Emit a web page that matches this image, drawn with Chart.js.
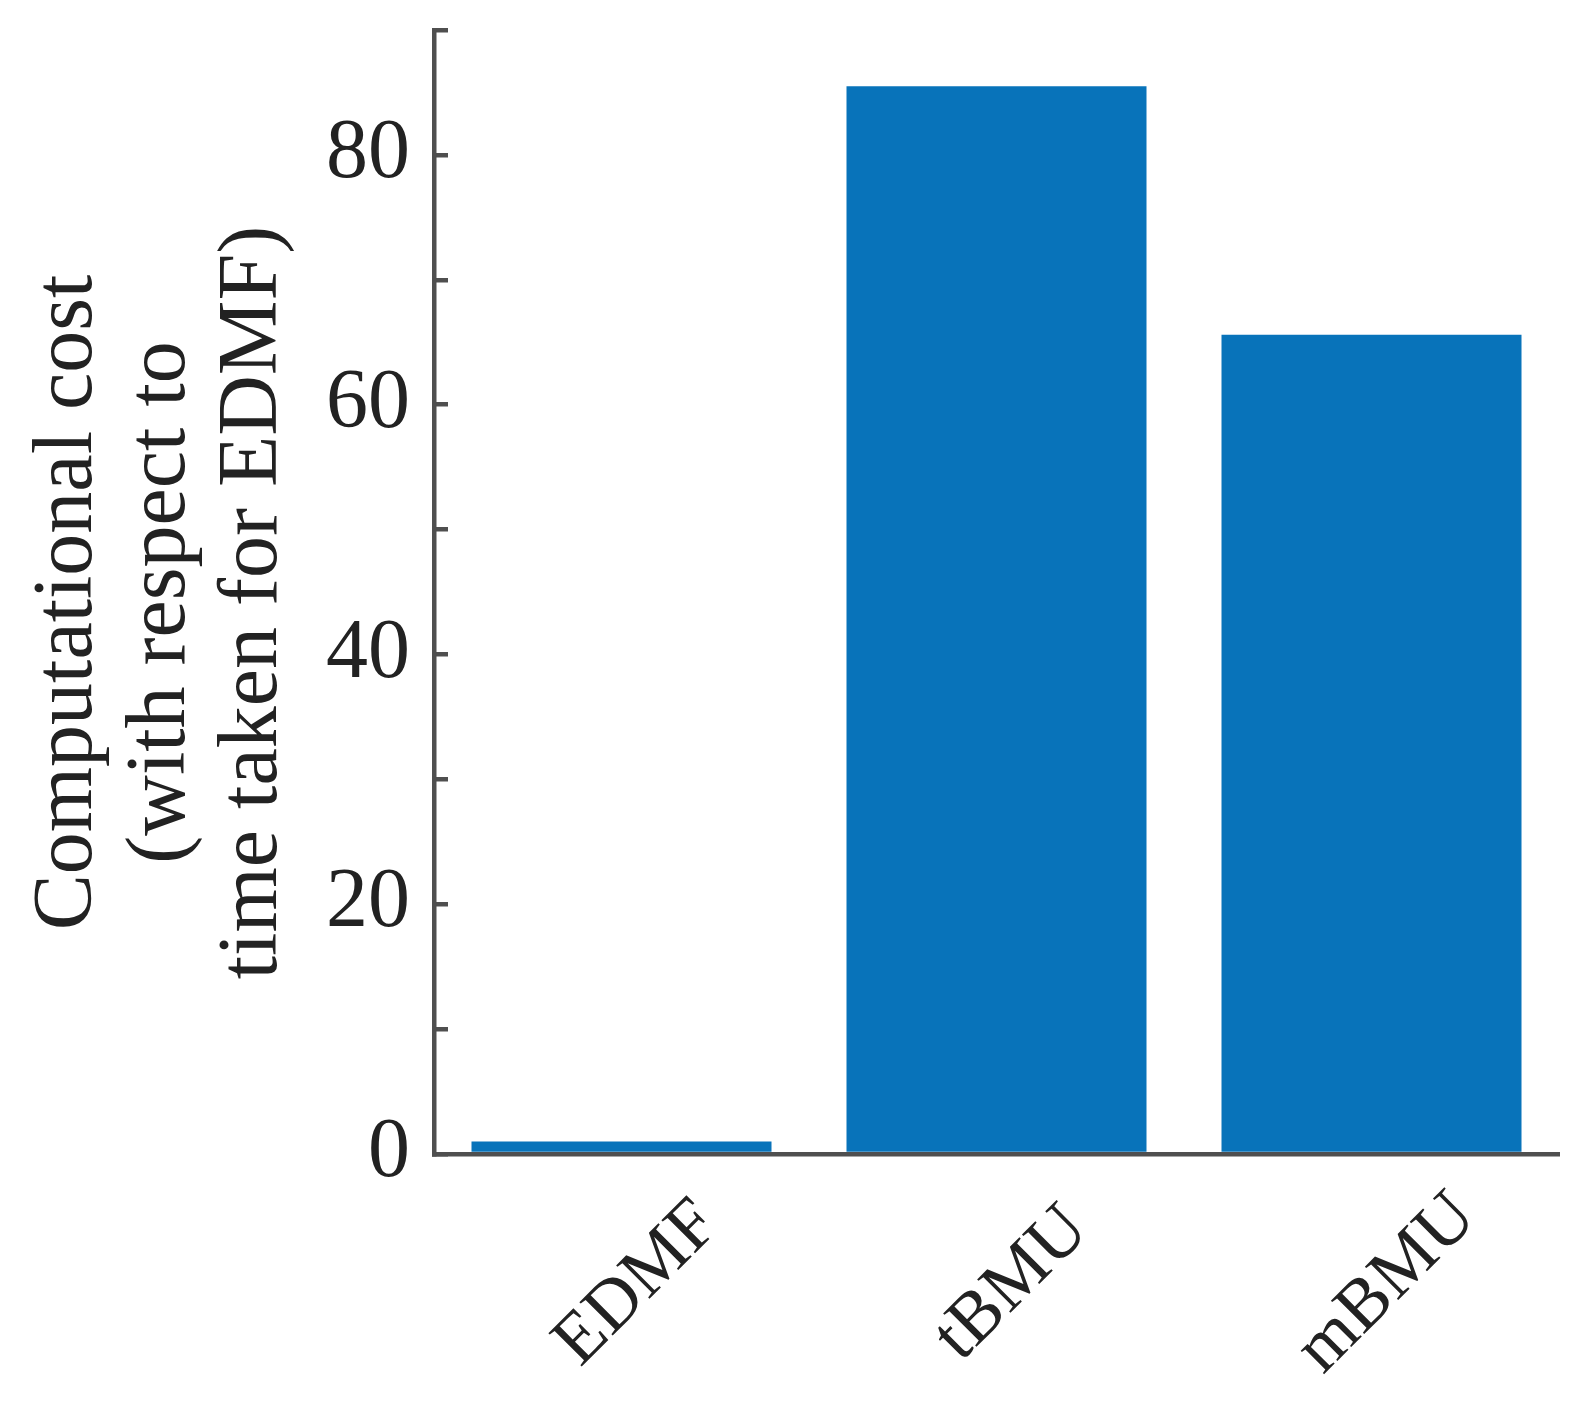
<!DOCTYPE html>
<html>
<head>
<meta charset="utf-8">
<script src="https://cdn.jsdelivr.net/npm/chart.js@4/dist/chart.umd.min.js"></script>
<style>
  html, body { margin: 0; padding: 0; background: #fff; }
  canvas { display: block; }
</style>
</head>
<body>
<canvas id="costChart" width="1589" height="1403"></canvas>
<script>
// data
const categories = ['EDMF', 'tBMU', 'mBMU'];
const costValues = [1.0, 85.5, 65.6];
const yTicks = [0, 10, 20, 30, 40, 50, 60, 70, 80, 90];
const yLabelled = [0, 20, 40, 60, 80];
const yTitle = ['Computational cost ', '(with respect to ', 'time taken for EDMF) '];

const barColor = '#0873ba';
const axisColor = '#4f4f4f';
const textColor = '#222222';
const fontFamily = '"Liberation Serif", "Times New Roman", serif';

// rotated x labels centred under each category (MATLAB style)
const xLabelPlugin = {
  id: 'xLabels',
  afterDraw(chart) {
    const ctx = chart.ctx;
    const xs = chart.scales.x;
    ctx.save();
    ctx.font = '72px ' + fontFamily;
    ctx.fillStyle = textColor;
    ctx.textAlign = 'center';
    ctx.textBaseline = 'middle';
    categories.forEach((c, i) => {
      ctx.save();
      ctx.translate(xs.getPixelForTick(i) + 16, xs.top + 130);
      ctx.rotate(-Math.PI / 4);
      ctx.fillText(c, 0, 0);
      ctx.restore();
    });
    ctx.restore();
  }
};

const ctx = document.getElementById('costChart').getContext('2d');
new Chart(ctx, {
  type: 'bar',
  data: {
    labels: categories,
    datasets: [{
      data: costValues,
      backgroundColor: barColor,
      borderWidth: 0,
      categoryPercentage: 0.8,
      barPercentage: 1.0
    }]
  },
  options: {
    responsive: false,
    devicePixelRatio: 1,
    animation: false,
    layout: { padding: { left: 23, top: 30, right: 30, bottom: 0 } },
    plugins: {
      legend: { display: false },
      tooltip: { enabled: false }
    },
    scales: {
      x: {
        grid: { display: false },
        border: { display: true, color: axisColor, width: 4.5 },
        ticks: { display: false },
        afterFit(scale) {
          scale.height = 249;
          scale.paddingLeft = 0;
          scale.paddingRight = 0;
        }
      },
      y: {
        min: 0,
        max: 90,
        afterBuildTicks(scale) {
          scale.ticks = yTicks.map(v => ({ value: v }));
        },
        ticks: {
          autoSkip: false,
          padding: 38,
          color: textColor,
          font: { family: fontFamily, size: 84 },
          callback: v => (yLabelled.includes(v) ? String(v) : '')
        },
        grid: {
          drawOnChartArea: false,
          drawTicks: true,
          tickLength: -14,
          color: axisColor,
          lineWidth: 4.5
        },
        border: { display: true, color: axisColor, width: 4.5 },
        title: {
          display: true,
          text: yTitle,
          color: textColor,
          font: { family: fontFamily, size: 84, lineHeight: 1.1 },
          padding: { top: 0, bottom: 0 }
        },
        afterFit(scale) {
          scale.width = 411;
          scale.paddingTop = 0;
          scale.paddingBottom = 0;
        }
      }
    }
  },
  plugins: [xLabelPlugin]
});
</script>
</body>
</html>
